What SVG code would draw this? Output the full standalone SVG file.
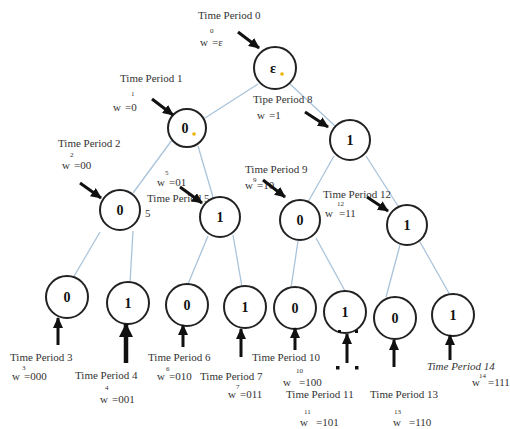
<svg xmlns="http://www.w3.org/2000/svg" width="510" height="429" viewBox="0 0 510 429">
<defs>
<marker id="ah" markerUnits="userSpaceOnUse" markerWidth="11" markerHeight="10" refX="10" refY="5" orient="auto">
<path d="M0,0 L11,5 L0,10 z" fill="#111"/>
</marker>
<marker id="ahb" markerUnits="userSpaceOnUse" markerWidth="14" markerHeight="14" refX="13" refY="7" orient="auto">
<path d="M0,0 L14,7 L0,14 z" fill="#111"/>
</marker>
<style>
.t{font-family:"Liberation Serif","Times New Roman",serif;font-size:11px;fill:#333}
.s{font-family:"Liberation Serif","Times New Roman",serif;font-size:7px;fill:#333}
.n{font-family:"Liberation Serif","Times New Roman",serif;font-size:14px;font-weight:bold;fill:#111;text-anchor:middle}
.c{fill:#fff;stroke:#222;stroke-width:2}
.e{stroke:#a9c3da;stroke-width:1.3;fill:none}
.a{stroke:#111;stroke-width:3;fill:none;marker-end:url(#ah)}
.ab{stroke:#111;stroke-width:4.5;fill:none;marker-end:url(#ahb)}
.dot{fill:#e8b400}
</style>
</defs>
<rect width="510" height="429" fill="#fff"/>

<g id="connectors">
<line class="e" x1="258" y1="84" x2="205" y2="118"/>
<line class="e" x1="290" y1="84" x2="335" y2="126"/>
<line class="e" x1="172" y1="140" x2="133" y2="193"/>
<line class="e" x1="198" y1="146" x2="213" y2="197"/>
<line class="e" x1="334" y1="156" x2="308" y2="202"/>
<line class="e" x1="366" y1="156" x2="398" y2="206"/>
<line class="e" x1="100" y1="232" x2="73" y2="278"/>
<line class="e" x1="133" y1="231" x2="130" y2="283"/>
<line class="e" x1="208" y1="236" x2="188" y2="284"/>
<line class="e" x1="233" y1="235" x2="242" y2="287"/>
<line class="e" x1="298" y1="241" x2="291" y2="288"/>
<line class="e" x1="316" y1="238" x2="345" y2="291"/>
<line class="e" x1="400" y1="245" x2="386" y2="297"/>
<line class="e" x1="420" y1="242" x2="450" y2="295"/>
</g>

<g id="labels">
<text class="t" x="198" y="19">Time Period 0</text>
<text class="s" x="210" y="33">0</text>
<text class="t" x="200" y="46">w<tspan dx="4">=ε</tspan></text>
<text class="t" x="120" y="82">Time Period 1</text>
<text class="s" x="131" y="96">1</text>
<text class="t" x="113" y="111">w<tspan dx="4">=0</tspan></text>
<text class="t" x="58" y="147">Time Period 2</text>
<text class="s" x="70" y="157">2</text>
<text class="t" x="62" y="169">w<tspan dx="4">=00</tspan></text>
<text class="s" x="165" y="175">5</text>
<text class="t" x="157" y="186">w<tspan dx="4">=01</tspan></text>
<text class="t" x="147" y="202">Time Period 5</text>
<text class="t" x="145" y="217">5</text>
<text class="t" x="253" y="103">Tipe Period 8</text>
<text class="t" x="257" y="119">w<tspan dx="4">=1</tspan></text>
<text class="t" x="245" y="173">Time Period 9</text>
<text class="s" x="253" y="182">9</text>
<text class="t" x="245" y="189">w<tspan dx="4">=10</tspan></text>
<text class="t" x="323" y="198">Time Period 12</text>
<text class="s" x="337" y="206">12</text>
<text class="t" x="325" y="217">w<tspan dx="6">=11</tspan></text>

<text class="t" x="10" y="361">Time Period 3</text>
<text class="s" x="22" y="370">3</text>
<text class="t" x="12" y="380">w<tspan dx="4">=000</tspan></text>
<text class="t" x="75" y="379">Time Period 4</text>
<text class="s" x="105" y="390">4</text>
<text class="t" x="100" y="403">w<tspan dx="4">=001</tspan></text>
<text class="t" x="148" y="361">Time Period 6</text>
<text class="s" x="166" y="371">6</text>
<text class="t" x="157" y="380">w<tspan dx="4">=010</tspan></text>
<text class="t" x="200" y="380">Time Period 7</text>
<text class="s" x="236" y="389">7</text>
<text class="t" x="228" y="398">w<tspan dx="4">=011</tspan></text>
<text class="t" x="252" y="361">Time Period 10</text>
<text class="s" x="296" y="373">10</text>
<text class="t" x="283" y="386">w<tspan dx="8">=100</tspan></text>
<text class="t" x="286" y="398">Time Period 11</text>
<text class="s" x="304" y="414">11</text>
<text class="t" x="300" y="426">w<tspan dx="8">=101</tspan></text>
<text class="t" x="370" y="398">Time Period 13</text>
<text class="s" x="394" y="414">13</text>
<text class="t" x="393" y="426">w<tspan dx="8">=110</tspan></text>
<text class="t" x="427" y="370" font-style="italic">Time Period 14</text>
<text class="s" x="479" y="378">14</text>
<text class="t" x="472" y="386">w<tspan dx="8">=111</tspan></text>
</g>

<g id="n-root"><circle class="c" cx="275" cy="68" r="21"/><text class="n" x="273" y="73">ε</text><circle class="dot" cx="282" cy="74" r="1.8"/></g>
<g id="n-0"><circle class="c" cx="187" cy="128" r="19"/><text class="n" x="185" y="133">0</text><circle class="dot" cx="194" cy="134" r="1.8"/></g>
<g id="n-1"><circle class="c" cx="350" cy="140" r="20"/><text class="n" x="350" y="145">1</text></g>
<g id="n-00"><circle class="c" cx="120" cy="210" r="20"/><text class="n" x="120" y="215">0</text></g>
<g id="n-01"><circle class="c" cx="220" cy="217" r="20"/><text class="n" x="220" y="222">1</text></g>
<g id="n-10"><circle class="c" cx="300" cy="220" r="20"/><text class="n" x="300" y="225">0</text></g>
<g id="n-11"><circle class="c" cx="407" cy="225" r="20"/><text class="n" x="407" y="230">1</text></g>
<g id="n-000"><circle class="c" cx="67" cy="297" r="21"/><text class="n" x="67" y="302">0</text></g>
<g id="n-001"><circle class="c" cx="128" cy="303" r="21"/><text class="n" x="128" y="308">1</text></g>
<g id="n-010"><circle class="c" cx="187" cy="305" r="21"/><text class="n" x="187" y="310">0</text></g>
<g id="n-011"><circle class="c" cx="245" cy="307" r="21"/><text class="n" x="245" y="312">1</text></g>
<g id="n-100"><circle class="c" cx="295" cy="308" r="21"/><text class="n" x="295" y="313">0</text></g>
<g id="n-101"><circle class="c" cx="345" cy="312" r="21"/><text class="n" x="345" y="317">1</text></g>
<g id="n-110"><circle class="c" cx="395" cy="318" r="21"/><text class="n" x="395" y="323">0</text></g>
<g id="n-111"><circle class="c" cx="453" cy="315" r="21"/><text class="n" x="453" y="320">1</text></g>

<g id="arrows">
<line class="a" x1="238" y1="32" x2="259" y2="48"/>
<line class="a" x1="152" y1="99" x2="173" y2="115"/>
<line class="a" x1="305" y1="112" x2="328" y2="127"/>
<line class="a" x1="80" y1="183" x2="101" y2="198"/>
<line class="a" x1="180" y1="187" x2="202" y2="203"/>
<line class="a" x1="263" y1="180" x2="285" y2="197"/>
<line class="a" x1="367" y1="197" x2="388" y2="211"/>
<line class="a" x1="58" y1="345" x2="58" y2="318"/>
<line class="ab" x1="126" y1="363" x2="126" y2="324"/>
<line class="a" x1="183" y1="347" x2="183" y2="325"/>
<line class="a" x1="241" y1="357" x2="241" y2="329"/>
<line class="a" x1="295" y1="350" x2="295" y2="328"/>
<line class="a" x1="347" y1="363" x2="347" y2="334"/>
<line class="a" x1="394" y1="367" x2="394" y2="340"/>
<line class="a" x1="450" y1="360" x2="450" y2="335"/>
<rect x="338" y="330" width="3" height="3" fill="#111"/>
<rect x="355" y="330" width="3" height="3" fill="#111"/>
<rect x="336" y="366" width="3.5" height="3.5" fill="#111"/>
<rect x="355" y="366" width="3.5" height="3.5" fill="#111"/>
</g>
</svg>
